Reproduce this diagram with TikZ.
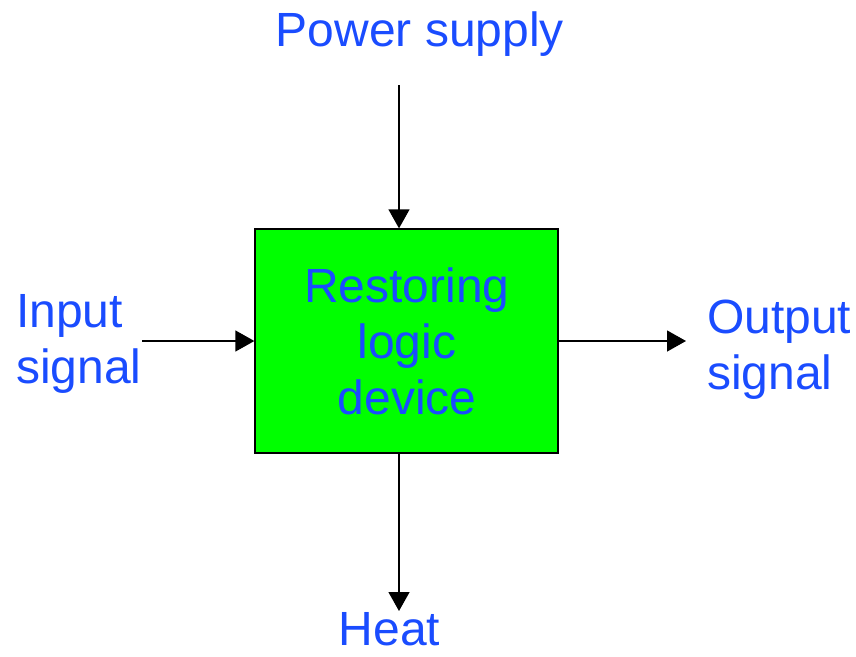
\documentclass[tikz,border=0pt]{standalone}
\usepackage{fontspec}
\setmainfont{Liberation Sans}
\usepackage{xcolor}
\usepackage{tikz}
\usetikzlibrary{arrows.meta,positioning}
\definecolor{SigBlue}{HTML}{1A4CFF}
\definecolor{DevGreen}{HTML}{00FF00}

\begin{document}
\begin{tikzpicture}[x=1pt, y=-1pt, font=\fontsize{48}{56}\selectfont,
  >={Triangle[length=19pt,width=21pt]},
  device/.style={draw=black, line width=1.3pt, fill=DevGreen, minimum width=303pt, minimum height=224pt, inner sep=0pt},
  sig/.style={text=SigBlue, inner sep=0pt},
  flow/.style={->, line width=1.3pt, black}]

\useasboundingbox (0,0) rectangle (856,656);

\node[device] (dev) at (406.5,341) {};
% multi-line nodes: base is the last line
\node[sig, align=center, anchor=base] (devtxt) at (407,414) {Restoring\\logic\\device};

\node[sig, anchor=base] (power) at (420,46) {Power supply};
\node[sig, align=left, anchor=base west] (input) at (16,383) {Input\\signal};
\node[sig, align=left, anchor=base west] (output) at (707,389) {Output\\signal};
\node[sig, anchor=base] (heat) at (389.5,645) {Heat};

\coordinate (powsrc) at (399,85);
\coordinate (insrc) at (142,341);
\coordinate (outend) at (686,341);
\coordinate (heatend) at (399,611);

\draw[flow] (powsrc) -- (powsrc |- dev.north);
\draw[flow] (insrc) -- (dev.west);
\draw[flow] (dev.east) -- (outend);
\draw[flow] (heatend |- dev.south) -- (heatend);
\end{tikzpicture}
\end{document}
